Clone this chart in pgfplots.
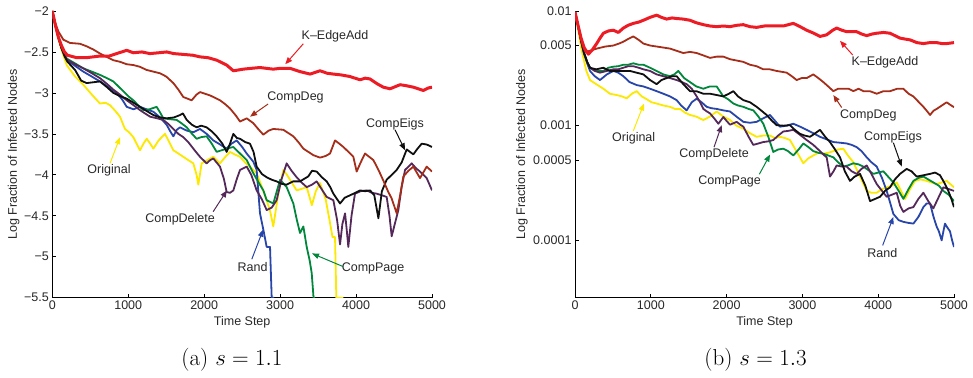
\RequirePackage{fix-cm}
\documentclass[border=0pt]{standalone}
\usepackage{fontspec}
\usepackage{pgfplots}
\pgfplotsset{compat=1.18}
\usetikzlibrary{arrows.meta}
\newfontfamily\hel{Liberation Sans}
\newcommand\tf{\hel\fontsize{12.5}{14}\selectfont}
\definecolor{cRed}{RGB}{237,28,36}
\definecolor{cBrown}{RGB}{165,45,25}
\definecolor{cBlack}{RGB}{15,15,15}
\definecolor{cYellow}{RGB}{252,232,0}
\definecolor{cPurple}{RGB}{85,40,90}
\definecolor{cBlue}{RGB}{40,70,170}
\definecolor{cGreen}{RGB}{0,135,60}
\definecolor{cText}{RGB}{40,40,40}
\tikzset{
  thk/.style={line width=3pt},
  ann/.style={font=\tf, text=cText},
  arr/.style={line width=1pt, -{Triangle[length=7pt,width=5.5pt]}},
}
\pgfplotsset{
  myax/.style={
    scale only axis, width=379.7pt, height=286.7pt,
    xmin=0, xmax=5000,
    axis x line*=bottom, axis y line*=left,
    axis line style={line width=0.8pt, black},
    tick align=inside, major tick length=3.5pt,
    tick style={line width=0.7pt, black},
    xtick={0,1000,2000,3000,4000,5000},
    xticklabels={0,1000,2000,3000,4000,5000},
    scaled x ticks=false,
    /pgf/number format/assume math mode=true,
    ticklabel style={font=\tf, text=cText},
    label style={font=\tf, text=cText},
    xlabel={Time Step},
    xlabel style={at={(axis description cs:0.5,-0.084)}, anchor=center},
    ylabel={Log Fraction of Infected Nodes},
    every axis plot/.append style={line width=1.8pt, line join=round},
  },
}
\begin{document}
\begin{tikzpicture}
\useasboundingbox (0pt,0pt) rectangle (973pt,377pt);
% ---------------- (a) ----------------
\begin{axis}[myax, at={(52.3pt,79.3pt)}, anchor=south west,
  ymin=-5.5, ymax=-2,
  ytick={-5.5,-5,-4.5,-4,-3.5,-3,-2.5,-2},
  yticklabels={−5.5,−5,−4.5,−4,−3.5,−3,−2.5,−2},
  ylabel style={at={(axis description cs:-0.102,0.5)}, anchor=center},
]
% Original
\addplot[cYellow] coordinates {(0,-2)(40,-2.18)(80,-2.34)(120,-2.47)(189,-2.66)(300,-2.80)(408,-2.90)(520,-3.02)(628,-3.13)(700,-3.12)(760,-3.15)(830,-3.22)(891,-3.29)(957,-3.44)(1010,-3.48)(1067,-3.54)(1110,-3.62)(1155,-3.70)(1200,-3.62)(1243,-3.56)(1290,-3.62)(1331,-3.68)(1400,-3.58)(1484,-3.50)(1540,-3.60)(1594,-3.70)(1660,-3.74)(1725,-3.78)(1790,-3.82)(1857,-3.86)(1900,-4.0)(1923,-4.12)(1967,-3.86)(2040,-3.82)(2120,-3.78)(2208,-3.86)(2280,-3.78)(2340,-3.72)(2400,-3.75)(2472,-3.78)(2540,-3.85)(2603,-3.90)(2691,-3.98)(2760,-4.15)(2823,-4.31)(2870,-4.45)(2910,-4.63)(2976,-4.23)(3042,-3.94)(3090,-4.00)(3130,-4.06)(3218,-4.19)(3290,-4.17)(3350,-4.15)(3418,-4.37)(3470,-4.20)(3525,-4.10)(3600,-4.30)(3650,-4.55)(3690,-4.76)(3723,-4.76)(3740,-5.5)(3833,-5.5)};
% Rand
\addplot[cBlue] coordinates {(0,-2)(40,-2.17)(80,-2.32)(120,-2.45)(189,-2.60)(300,-2.67)(408,-2.74)(520,-2.80)(628,-2.86)(740,-2.93)(847,-3.00)(920,-3.08)(980,-3.17)(1070,-3.20)(1155,-3.17)(1240,-3.20)(1331,-3.23)(1420,-3.30)(1506,-3.39)(1560,-3.48)(1594,-3.53)(1640,-3.45)(1682,-3.42)(1770,-3.46)(1857,-3.48)(1945,-3.44)(2032,-3.50)(2120,-3.58)(2210,-3.63)(2296,-3.68)(2360,-3.62)(2428,-3.58)(2500,-3.66)(2560,-3.74)(2647,-3.84)(2691,-3.94)(2735,-4.47)(2779,-4.67)(2823,-4.88)(2867,-4.88)(2889,-5.5)(2920,-5.5)};
% CompPage
\addplot[cGreen] coordinates {(0,-2)(40,-2.17)(80,-2.32)(120,-2.45)(189,-2.58)(300,-2.64)(408,-2.70)(520,-2.74)(628,-2.78)(720,-2.82)(804,-2.86)(870,-2.92)(935,-2.98)(1000,-3.04)(1067,-3.09)(1130,-3.15)(1199,-3.21)(1280,-3.20)(1374,-3.17)(1420,-3.24)(1462,-3.31)(1540,-3.32)(1638,-3.33)(1700,-3.37)(1770,-3.42)(1840,-3.50)(1901,-3.56)(1960,-3.54)(2032,-3.53)(2100,-3.62)(2164,-3.72)(2230,-3.70)(2296,-3.68)(2384,-3.66)(2472,-3.74)(2560,-3.82)(2647,-3.98)(2720,-4.10)(2779,-4.19)(2823,-4.31)(2910,-4.35)(3000,-4.06)(3086,-4.15)(3174,-4.35)(3220,-4.55)(3262,-4.71)(3306,-4.63)(3350,-4.88)(3390,-5.05)(3416,-5.20)(3440,-5.5)(3460,-5.5)};
% CompDelete
\addplot[cPurple] coordinates {(0,-2)(40,-2.17)(80,-2.32)(120,-2.45)(189,-2.59)(300,-2.65)(408,-2.70)(520,-2.76)(628,-2.82)(720,-2.89)(804,-2.96)(890,-3.02)(980,-3.09)(1070,-3.15)(1155,-3.21)(1220,-3.25)(1287,-3.29)(1380,-3.31)(1462,-3.33)(1530,-3.38)(1594,-3.44)(1660,-3.50)(1725,-3.54)(1790,-3.60)(1857,-3.68)(1900,-3.73)(1945,-3.78)(2032,-3.86)(2080,-3.82)(2120,-3.80)(2208,-3.90)(2260,-4.05)(2296,-4.21)(2340,-4.22)(2384,-4.19)(2430,-4.05)(2472,-3.94)(2560,-3.90)(2620,-4.00)(2691,-4.19)(2760,-4.30)(2823,-4.43)(2890,-4.40)(2954,-4.31)(3020,-4.05)(3086,-3.86)(3150,-3.95)(3218,-4.03)(3290,-4.10)(3350,-4.15)(3420,-4.12)(3481,-4.08)(3550,-4.18)(3613,-4.27)(3701,-4.31)(3750,-4.55)(3789,-4.85)(3820,-4.60)(3855,-4.47)(3880,-4.70)(3898,-4.88)(3940,-4.50)(3986,-4.23)(4060,-4.20)(4140,-4.19)(4210,-4.22)(4272,-4.23)(4340,-4.25)(4403,-4.27)(4440,-4.50)(4469,-4.75)(4510,-4.60)(4557,-4.43)(4600,-4.15)(4645,-3.94)(4690,-3.90)(4732,-3.86)(4790,-3.92)(4842,-3.96)(4930,-4.04)(5000,-4.19)};
% CompEigs
\addplot[cBlack] coordinates {(0,-2)(40,-2.17)(80,-2.32)(120,-2.45)(160,-2.55)(200,-2.62)(300,-2.72)(380,-2.85)(452,-2.88)(540,-2.87)(628,-2.86)(720,-2.93)(804,-3.00)(890,-3.04)(980,-3.07)(1070,-3.12)(1155,-3.17)(1240,-3.22)(1331,-3.27)(1420,-3.30)(1506,-3.31)(1600,-3.30)(1682,-3.27)(1720,-3.25)(1770,-3.33)(1840,-3.39)(1901,-3.42)(1960,-3.40)(2032,-3.42)(2100,-3.47)(2164,-3.53)(2240,-3.62)(2296,-3.72)(2340,-3.62)(2384,-3.50)(2430,-3.55)(2472,-3.56)(2540,-3.60)(2603,-3.62)(2650,-3.72)(2691,-3.90)(2760,-3.99)(2823,-4.03)(2890,-4.06)(2954,-4.08)(3020,-4.11)(3086,-4.12)(3170,-4.08)(3262,-4.08)(3370,-4.02)(3420,-3.95)(3481,-3.96)(3550,-4.03)(3613,-4.08)(3660,-4.15)(3701,-4.23)(3789,-4.35)(3850,-4.28)(3920,-4.25)(3990,-4.22)(4052,-4.19)(4120,-4.20)(4184,-4.19)(4240,-4.25)(4294,-4.53)(4340,-4.20)(4403,-4.06)(4470,-4.00)(4535,-3.94)(4600,-3.85)(4667,-3.69)(4710,-3.72)(4754,-3.75)(4810,-3.68)(4864,-3.62)(4930,-3.63)(5000,-3.66)};
% CompDeg
\addplot[cBrown] coordinates {(0,-2)(40,-2.15)(80,-2.25)(145,-2.35)(233,-2.39)(364,-2.40)(450,-2.43)(540,-2.47)(630,-2.52)(716,-2.56)(800,-2.60)(891,-2.62)(980,-2.65)(1067,-2.66)(1150,-2.68)(1243,-2.72)(1330,-2.74)(1418,-2.76)(1500,-2.80)(1594,-2.88)(1660,-2.96)(1725,-3.05)(1835,-3.09)(1900,-3.02)(1945,-2.99)(2076,-3.03)(2208,-3.09)(2280,-3.14)(2340,-3.19)(2420,-3.28)(2472,-3.35)(2560,-3.31)(2647,-3.37)(2720,-3.45)(2779,-3.51)(2850,-3.46)(2910,-3.44)(3042,-3.45)(3174,-3.53)(3240,-3.60)(3306,-3.68)(3437,-3.76)(3525,-3.79)(3600,-3.77)(3657,-3.74)(3723,-3.58)(3780,-3.62)(3833,-3.66)(3900,-3.72)(3964,-3.78)(4008,-3.96)(4060,-3.85)(4118,-3.74)(4228,-3.82)(4300,-3.95)(4359,-4.07)(4420,-4.20)(4469,-4.29)(4535,-4.47)(4580,-4.25)(4623,-4.02)(4690,-3.95)(4754,-3.90)(4842,-4.04)(4930,-3.90)(5000,-3.96)};
% K-EdgeAdd
\addplot[cRed, thk] coordinates {(0,-2)(40,-2.17)(80,-2.32)(120,-2.42)(160,-2.50)(200,-2.54)(320,-2.57)(450,-2.57)(628,-2.55)(750,-2.55)(847,-2.52)(980,-2.48)(1067,-2.51)(1180,-2.50)(1286,-2.52)(1400,-2.51)(1506,-2.50)(1600,-2.52)(1725,-2.53)(1850,-2.54)(1945,-2.56)(2050,-2.57)(2164,-2.60)(2296,-2.66)(2384,-2.73)(2450,-2.72)(2515,-2.71)(2620,-2.70)(2735,-2.69)(2820,-2.70)(2910,-2.71)(3000,-2.70)(3130,-2.70)(3262,-2.74)(3394,-2.77)(3525,-2.73)(3620,-2.76)(3701,-2.77)(3800,-2.78)(3920,-2.80)(4052,-2.84)(4120,-2.82)(4184,-2.83)(4280,-2.89)(4359,-2.93)(4447,-2.95)(4579,-2.90)(4650,-2.91)(4754,-2.93)(4886,-2.97)(4950,-2.94)(5000,-2.93)};
% annotations
\node[ann] at (axis cs:3723,-2.305) {K–EdgeAdd};
\draw[arr, cRed] (axis cs:3305,-2.40) -- (axis cs:3068,-2.65);
\node[ann] at (axis cs:3203,-3.05) {CompDeg};
\draw[arr, cBrown] (axis cs:2842,-3.135) -- (axis cs:2604,-3.29);
\node[ann] at (axis cs:4513,-3.38) {CompEigs};
\draw[arr, cBlack] (axis cs:4513,-3.45) -- (axis cs:4645,-3.70);
\node[ann] at (axis cs:747,-3.95) {Original};
\draw[arr, cYellow] (axis cs:760,-3.86) -- (axis cs:892,-3.54);
\node[ann] at (axis cs:1683,-4.54) {CompDelete};
\draw[arr, cPurple] (axis cs:2118,-4.45) -- (axis cs:2300,-4.19);
\node[ann] at (axis cs:2637,-5.12) {Rand};
\draw[arr, cBlue] (axis cs:2627,-5.03) -- (axis cs:2776,-4.67);
\node[ann] at (axis cs:4224,-5.14) {CompPage};
\draw[arr, cGreen] (axis cs:3829,-5.12) -- (axis cs:3420,-4.96);
\end{axis}
% ---------------- (b) ----------------
\begin{axis}[myax, at={(575pt,79.3pt)}, anchor=south west, width=379pt,
  ymode=log, ymin=3.1623e-5, ymax=0.01,
  ytick={0.0001,0.0005,0.001,0.005,0.01},
  yticklabels={0.0001,0.0005,0.001,0.005,0.01},
  yminorticks=false,
  ylabel style={at={(axis description cs:-0.14,0.5)}, anchor=center},
]
% Original
\addplot[cYellow] coordinates {(0,0.0098)(40,0.0070)(80,0.0048)(110,0.0039)(150,0.0030)(198,0.0025)(280,0.0023)(374,0.0021)(460,0.0019)(550,0.00185)(620,0.0018)(682,0.00173)(750,0.0019)(814,0.0020)(880,0.0018)(946,0.0017)(1010,0.0016)(1077,0.00156)(1165,0.0015)(1253,0.00146)(1320,0.0014)(1385,0.0014)(1450,0.0013)(1517,0.00124)(1600,0.0012)(1693,0.00112)(1780,0.0012)(1869,0.00133)(1957,0.0012)(2045,0.00112)(2130,0.0010)(2221,0.00094)(2308,0.00086)(2396,0.0008)(2480,0.00082)(2572,0.00082)(2640,0.00078)(2704,0.0008)(2770,0.00078)(2836,0.00075)(2920,0.0006)(3012,0.00047)(3080,0.00052)(3144,0.00055)(3210,0.00058)(3276,0.00057)(3340,0.00058)(3408,0.0006)(3470,0.00062)(3540,0.00063)(3600,0.00055)(3672,0.00048)(3760,0.00036)(3848,0.00027)(3910,0.00026)(3980,0.00026)(4050,0.00028)(4112,0.00029)(4180,0.00030)(4244,0.00032)(4300,0.00027)(4354,0.00023)(4420,0.00028)(4486,0.00033)(4560,0.00034)(4640,0.00033)(4700,0.00032)(4771,0.00031)(4840,0.00032)(4903,0.00033)(4950,0.00031)(5000,0.00029)};
% Rand
\addplot[cBlue] coordinates {(0,0.0098)(40,0.0075)(80,0.0055)(120,0.0042)(160,0.0035)(198,0.0030)(260,0.0027)(330,0.0025)(420,0.0028)(506,0.0030)(570,0.0029)(638,0.0027)(720,0.0024)(814,0.00226)(900,0.0022)(990,0.0021)(1077,0.0020)(1165,0.0019)(1253,0.0018)(1341,0.00167)(1400,0.0015)(1473,0.00136)(1540,0.0016)(1605,0.00172)(1670,0.0016)(1737,0.00146)(1800,0.00142)(1869,0.0014)(1957,0.00136)(2045,0.00133)(2130,0.0012)(2221,0.00108)(2308,0.00106)(2396,0.00108)(2484,0.00116)(2572,0.00124)(2640,0.0011)(2704,0.00098)(2790,0.0010)(2880,0.00104)(2970,0.00098)(3056,0.00092)(3144,0.00086)(3232,0.0008)(3320,0.00076)(3408,0.00072)(3500,0.00071)(3584,0.0007)(3650,0.00068)(3716,0.00065)(3780,0.0006)(3848,0.00053)(3910,0.00048)(3980,0.00044)(4050,0.00035)(4112,0.00027)(4160,0.00021)(4200,0.00017)(4270,0.00015)(4332,0.000145)(4400,0.000142)(4464,0.00014)(4530,0.00016)(4596,0.000195)(4640,0.00021)(4684,0.00021)(4730,0.00016)(4771,0.000132)(4800,0.00012)(4837,0.0001)(4860,0.00012)(4881,0.00014)(4910,0.00013)(4947,0.00012)(4975,0.0001)(5000,0.0000875)};
% CompPage
\addplot[cGreen] coordinates {(0,0.0098)(40,0.0075)(80,0.0055)(120,0.0043)(160,0.0036)(198,0.0032)(280,0.0030)(374,0.0030)(440,0.0032)(506,0.00327)(570,0.0033)(638,0.0034)(700,0.0034)(770,0.0035)(840,0.0034)(902,0.0034)(990,0.0032)(1077,0.0030)(1165,0.0028)(1253,0.0027)(1310,0.0028)(1363,0.0030)(1440,0.0026)(1517,0.0024)(1600,0.0022)(1693,0.0021)(1780,0.0022)(1869,0.0022)(1910,0.0020)(1957,0.0018)(2020,0.0017)(2089,0.00156)(2150,0.0015)(2221,0.00146)(2290,0.0014)(2352,0.00136)(2420,0.0012)(2484,0.00104)(2550,0.0008)(2616,0.00059)(2680,0.00062)(2748,0.00063)(2810,0.0006)(2880,0.00055)(2950,0.00062)(3012,0.0007)(3080,0.00065)(3144,0.0006)(3210,0.00058)(3276,0.00057)(3340,0.00055)(3408,0.00053)(3470,0.00048)(3540,0.00044)(3600,0.00045)(3672,0.00047)(3740,0.00046)(3804,0.00044)(3870,0.00041)(3936,0.00038)(4000,0.00039)(4068,0.0004)(4130,0.00036)(4200,0.00032)(4270,0.00027)(4332,0.00023)(4400,0.00028)(4464,0.00033)(4530,0.00035)(4596,0.00036)(4660,0.00034)(4727,0.00032)(4800,0.0003)(4859,0.00027)(4930,0.00025)(5000,0.00022)};
% CompDelete
\addplot[cPurple] coordinates {(0,0.0098)(40,0.0075)(80,0.0055)(120,0.0043)(160,0.0036)(198,0.0032)(260,0.0030)(330,0.0029)(420,0.0030)(506,0.0031)(570,0.0031)(638,0.0032)(700,0.0033)(770,0.0033)(840,0.0032)(902,0.0031)(990,0.0030)(1077,0.0028)(1165,0.0027)(1253,0.0026)(1341,0.0025)(1410,0.0024)(1473,0.0023)(1540,0.0021)(1605,0.0018)(1650,0.0016)(1693,0.0014)(1740,0.00133)(1781,0.00128)(1840,0.00115)(1891,0.00104)(1957,0.00119)(2000,0.0011)(2045,0.00102)(2090,0.00105)(2133,0.00108)(2180,0.00102)(2221,0.00098)(2290,0.0008)(2352,0.00068)(2420,0.0007)(2484,0.00072)(2550,0.00073)(2616,0.00075)(2680,0.00082)(2748,0.00089)(2810,0.0009)(2880,0.00092)(2970,0.00083)(3056,0.00075)(3144,0.00068)(3232,0.0006)(3290,0.00055)(3320,0.00053)(3364,0.00036)(3410,0.0004)(3452,0.00045)(3520,0.00044)(3584,0.00044)(3650,0.0004)(3716,0.00038)(3780,0.00042)(3848,0.00045)(3910,0.00038)(3980,0.00031)(4050,0.00027)(4112,0.00024)(4180,0.00025)(4244,0.00026)(4290,0.0002)(4332,0.000177)(4400,0.00019)(4464,0.000195)(4530,0.00023)(4596,0.00026)(4660,0.00022)(4727,0.00019)(4800,0.00024)(4859,0.00029)(4930,0.00028)(5000,0.00027)};
% CompEigs
\addplot[cBlack] coordinates {(0,0.0098)(40,0.0075)(80,0.0055)(120,0.0043)(160,0.0036)(198,0.0032)(280,0.0031)(374,0.0032)(460,0.0030)(550,0.0030)(640,0.0030)(726,0.0030)(810,0.0029)(902,0.0028)(990,0.0025)(1077,0.0023)(1140,0.0025)(1209,0.0026)(1280,0.0027)(1341,0.0027)(1429,0.0023)(1517,0.0020)(1600,0.0020)(1693,0.0019)(1780,0.0019)(1869,0.00185)(1957,0.0018)(2030,0.0019)(2089,0.0020)(2150,0.0018)(2221,0.00167)(2308,0.0016)(2396,0.00146)(2460,0.00135)(2528,0.00124)(2600,0.00110)(2660,0.00101)(2750,0.00100)(2836,0.00101)(2900,0.00092)(2967,0.00085)(3030,0.00082)(3100,0.00080)(3170,0.00086)(3232,0.00092)(3300,0.00080)(3364,0.00072)(3430,0.00062)(3496,0.00053)(3560,0.00040)(3628,0.00033)(3690,0.00036)(3760,0.00038)(3830,0.00030)(3892,0.00022)(3960,0.00023)(4024,0.00024)(4090,0.00027)(4156,0.00029)(4220,0.00034)(4288,0.00038)(4376,0.00042)(4440,0.00040)(4508,0.00036)(4600,0.00037)(4684,0.00038)(4750,0.00039)(4815,0.00037)(4870,0.00032)(4925,0.00027)(4965,0.00023)(5000,0.000195)};
% CompDeg
\addplot[cBrown] coordinates {(0,0.0098)(40,0.0075)(80,0.0058)(132,0.0044)(200,0.0045)(286,0.0047)(400,0.0049)(506,0.0050)(580,0.0052)(638,0.0054)(700,0.0057)(770,0.0060)(840,0.0056)(902,0.0052)(990,0.0050)(1077,0.0049)(1165,0.0048)(1253,0.0047)(1340,0.0045)(1429,0.0043)(1517,0.0044)(1605,0.0043)(1693,0.0041)(1781,0.0039)(1869,0.0040)(1957,0.0040)(2045,0.0038)(2133,0.0037)(2220,0.0036)(2308,0.0034)(2396,0.0033)(2484,0.0031)(2570,0.0031)(2660,0.0030)(2792,0.0029)(2860,0.0027)(2924,0.0025)(2990,0.0026)(3056,0.0026)(3144,0.0028)(3210,0.0026)(3276,0.0024)(3340,0.0022)(3408,0.0020)(3470,0.0021)(3540,0.0021)(3610,0.0021)(3672,0.0020)(3740,0.0021)(3804,0.0020)(3890,0.0020)(3980,0.0019)(4070,0.0020)(4156,0.0020)(4250,0.0021)(4332,0.0021)(4400,0.0019)(4464,0.0018)(4530,0.00162)(4596,0.00146)(4640,0.00135)(4684,0.00124)(4730,0.00135)(4771,0.0014)(4840,0.0015)(4903,0.0016)(4950,0.00152)(5000,0.00145)};
% K-EdgeAdd
\addplot[cRed, thk] coordinates {(0,0.0098)(40,0.0075)(80,0.0058)(120,0.0048)(176,0.0042)(230,0.0046)(286,0.0052)(330,0.0058)(374,0.0064)(440,0.0067)(506,0.0068)(572,0.0065)(638,0.0071)(700,0.0075)(770,0.0078)(840,0.0080)(902,0.0083)(990,0.0088)(1077,0.0092)(1140,0.0088)(1209,0.0085)(1280,0.0087)(1341,0.0086)(1429,0.0085)(1517,0.0083)(1600,0.0079)(1693,0.0076)(1780,0.0074)(1869,0.0073)(1957,0.0074)(2045,0.0073)(2130,0.0075)(2221,0.0076)(2308,0.0073)(2396,0.0072)(2500,0.0074)(2616,0.0074)(2748,0.0074)(2880,0.0078)(2970,0.0073)(3056,0.0068)(3150,0.0064)(3232,0.0060)(3320,0.0062)(3400,0.0068)(3452,0.0071)(3520,0.0068)(3584,0.0066)(3716,0.0066)(3780,0.0063)(3848,0.0061)(3920,0.0063)(3980,0.0064)(4070,0.0065)(4156,0.0064)(4220,0.0061)(4288,0.0058)(4350,0.0057)(4420,0.0056)(4510,0.0053)(4596,0.0052)(4680,0.0053)(4771,0.0053)(4840,0.0052)(4903,0.0052)(5000,0.0053)};
% annotations
\node[ann] at (axis cs:4090,0.0036) {K–EdgeAdd};
\draw[arr, cRed] (axis cs:3664,0.00413) -- (axis cs:3496,0.0055);
\node[ann] at (axis cs:3870,0.00124) {CompDeg};
\draw[arr, cBrown] (axis cs:3518,0.00144) -- (axis cs:3408,0.00185);
\node[ann] at (axis cs:4195,0.0008) {CompEigs};
\draw[arr, cBlack] (axis cs:4200,0.00071) -- (axis cs:4310,0.00044);
\node[ann] at (axis cs:774,0.00078) {Original};
\draw[arr, cYellow] (axis cs:769,0.0009) -- (axis cs:910,0.00156);
\node[ann] at (axis cs:1834,0.00056) {CompDelete};
\draw[arr, cPurple] (axis cs:1834,0.00065) -- (axis cs:1935,0.00101);
\node[ann] at (axis cs:2040,0.000324) {CompPage};
\draw[arr, cGreen] (axis cs:2432,0.000377) -- (axis cs:2573,0.00056);
\node[ann] at (axis cs:4054,0.000078) {Rand};
\draw[arr, cBlue] (axis cs:4059,0.0000904) -- (axis cs:4200,0.00016);
\end{axis}
% captions
\node[font=\fontsize{23}{27}\selectfont] at (232pt,17pt) {(a) $s=1.1$};
\node[font=\fontsize{23}{27}\selectfont] at (755.5pt,17pt) {(b) $s=1.3$};
\end{tikzpicture}
\end{document}
